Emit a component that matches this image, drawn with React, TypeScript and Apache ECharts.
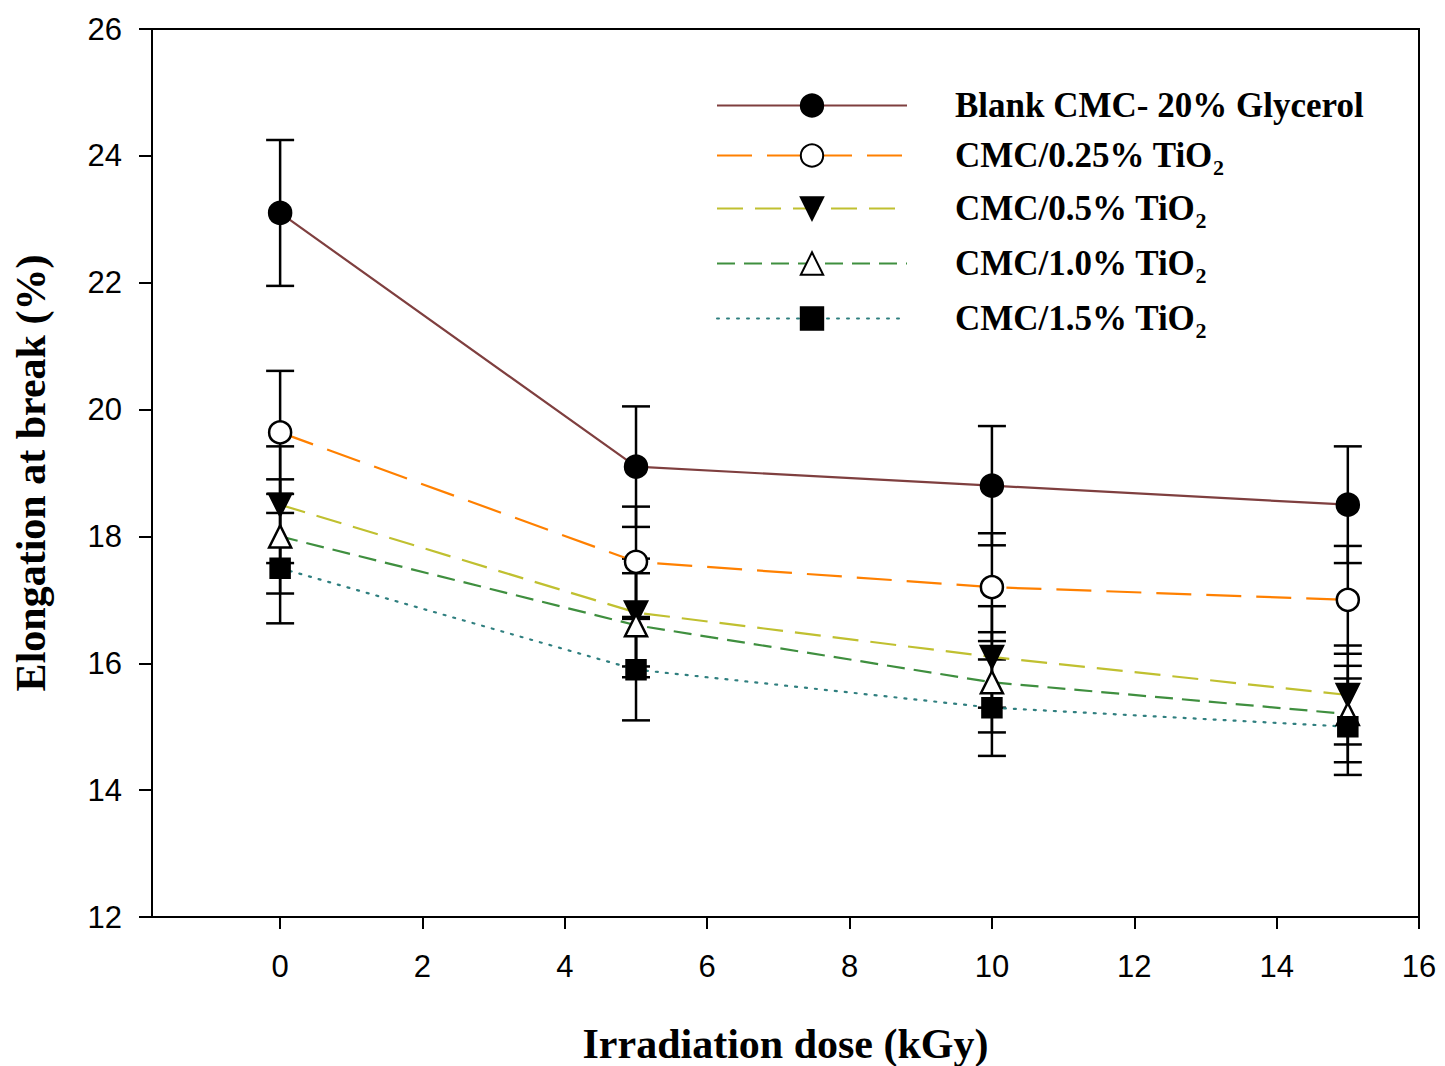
import React, { useEffect, useRef } from "react";
import * as echarts from "echarts";

const doses = [0, 5, 10, 15];
const xTicks = [0, 2, 4, 6, 8, 10, 12, 14, 16];

const seriesNames = [
  "Blank CMC- 20% Glycerol",
  "CMC/0.25% TiO2",
  "CMC/0.5% TiO2",
  "CMC/1.0% TiO2",
  "CMC/1.5% TiO2",
];
const blankVals = [23.1, 19.1, 18.8, 18.5];
const blankErr = [1.15, 0.95, 0.94, 0.92];
const tio025Vals = [19.64, 17.6, 17.2, 17.0];
const tio025Err = [0.97, 0.87, 0.85, 0.85];
const tio05Vals = [18.5, 16.8, 16.1, 15.5];
const tio05Err = [0.92, 0.85, 0.8, 0.78];
const tio10Vals = [18.0, 16.6, 15.7, 15.2];
const tio10Err = [0.9, 0.82, 0.79, 0.76];
const tio15Vals = [17.5, 15.9, 15.3, 15.0];
const tio15Err = [0.87, 0.8, 0.76, 0.76];

const allVals = [blankVals, tio025Vals, tio05Vals, tio10Vals, tio15Vals];
const allErr = [blankErr, tio025Err, tio05Err, tio10Err, tio15Err];

const lineColors = ["#7F3F3F", "#FF8000", "#C0C030", "#3F8F3F", "#2F7F7F"];
const lineDashes: any[] = ["solid", [35, 15], [26, 12], [18, 9], [2, 8]];
const symbols = ["circle", "circle", "triangle", "triangle", "rect"];
const symbolRotates = [0, 0, 180, 0, 0];
const symbolSizes = [22, 22, 22, 22, 19];
const fills = ["#000", "#fff", "#000", "#fff", "#000"];
const legendRowY = [102, 152, 205, 260, 315];

const serif = "'Liberation Serif', 'Times New Roman', serif";
const sans = "'Liberation Sans', Arial, sans-serif";

export default function App() {
  const ref = useRef<HTMLDivElement>(null);
  useEffect(() => {
    if (!ref.current) return;
    const chart = echarts.init(ref.current, null, { renderer: "svg" });

    const lineSeries = seriesNames.map((name, i) => ({
      name,
      type: "line",
      z: 3,
      data: doses.map((d, j) => [d, allVals[i][j]]),
      symbol: symbols[i],
      symbolRotate: symbolRotates[i],
      symbolSize: symbolSizes[i],
      itemStyle: { color: fills[i], borderColor: "#000", borderWidth: 2.5 },
      lineStyle: { color: lineColors[i], width: 2.2, type: lineDashes[i], cap: i === 4 ? "round" : "butt" },
      emphasis: { disabled: true },
    }));

    const errSeries = seriesNames.map((name, i) => ({
      name: name + " err",
      type: "custom",
      z: 2,
      data: doses.map((d, j) => [d, allVals[i][j] - allErr[i][j], allVals[i][j] + allErr[i][j]]),
      encode: { x: 0, y: [1, 2] },
      renderItem: (params: any, api: any) => {
        const x = api.value(0);
        const lo = api.value(1);
        const hi = api.value(2);
        const p1 = api.coord([x, hi]);
        const p2 = api.coord([x, lo]);
        const w = 14;
        const st = { stroke: "#000", lineWidth: 2.5 };
        return {
          type: "group",
          children: [
            { type: "line", shape: { x1: p1[0], y1: p1[1], x2: p2[0], y2: p2[1] }, style: st },
            { type: "line", shape: { x1: p1[0] - w, y1: p1[1], x2: p1[0] + w, y2: p1[1] }, style: st },
            { type: "line", shape: { x1: p2[0] - w, y1: p2[1], x2: p2[0] + w, y2: p2[1] }, style: st },
          ],
        };
      },
    }));

    const legends = seriesNames.map((name, i) => ({
      data: [name],
      left: 711,
      top: legendRowY[i] - 14 - 5,
      itemWidth: 190,
      itemHeight: 28,
      selectedMode: false,
      formatter: (n: string) =>
        n.endsWith("TiO2") ? "{m|" + n.slice(0, -1) + "}{s|2}" : "{m|" + n + "}",
      textStyle: {
        padding: [0, 0, 0, 43],
        rich: {
          m: { fontFamily: serif, fontWeight: "bold", fontSize: 35, color: "#000" },
          s: { fontFamily: serif, fontWeight: "bold", fontSize: 22, color: "#000", padding: [24, 0, 0, 0] },
        },
      },
    }));

    chart.setOption({
      animation: false,
      backgroundColor: "#fff",
      grid: {
        left: 152,
        top: 29,
        right: 26,
        bottom: 149,
        outerBoundsMode: "none",
        containLabel: false,
        show: true,
        borderColor: "#000",
        borderWidth: 2,
      },
      legend: legends,
      xAxis: {
        type: "value",
        min: -1.8,
        max: 16,
        name: "Irradiation dose (kGy)",
        nameLocation: "middle",
        nameGap: 106,
        nameTextStyle: { fontFamily: serif, fontWeight: "bold", fontSize: 42, color: "#000" },
        axisLine: { onZero: false, lineStyle: { color: "#000", width: 2 } },
        axisTick: { show: true, inside: false, length: 12, customValues: xTicks, lineStyle: { color: "#000", width: 2 } },
        axisLabel: { customValues: xTicks, margin: 34, fontFamily: sans, fontSize: 31, color: "#000" },
        splitLine: { show: false },
      },
      yAxis: {
        type: "value",
        min: 12,
        max: 26,
        interval: 2,
        name: "Elongation at break (%)",
        nameLocation: "middle",
        nameGap: 100,
        nameTextStyle: { fontFamily: serif, fontWeight: "bold", fontSize: 42, color: "#000" },
        axisLine: { show: true, onZero: false, lineStyle: { color: "#000", width: 2 } },
        axisTick: { show: true, inside: false, length: 13, lineStyle: { color: "#000", width: 2 } },
        axisLabel: { margin: 30, fontFamily: sans, fontSize: 31, color: "#000" },
        splitLine: { show: false },
      },
      series: [...errSeries, ...lineSeries],
    });
    return () => chart.dispose();
  }, []);
  return (
    <div
      ref={ref}
      style={{ position: "fixed", left: 0, top: 0, width: 1445, height: 1066, background: "#fff" }}
    />
  );
}
